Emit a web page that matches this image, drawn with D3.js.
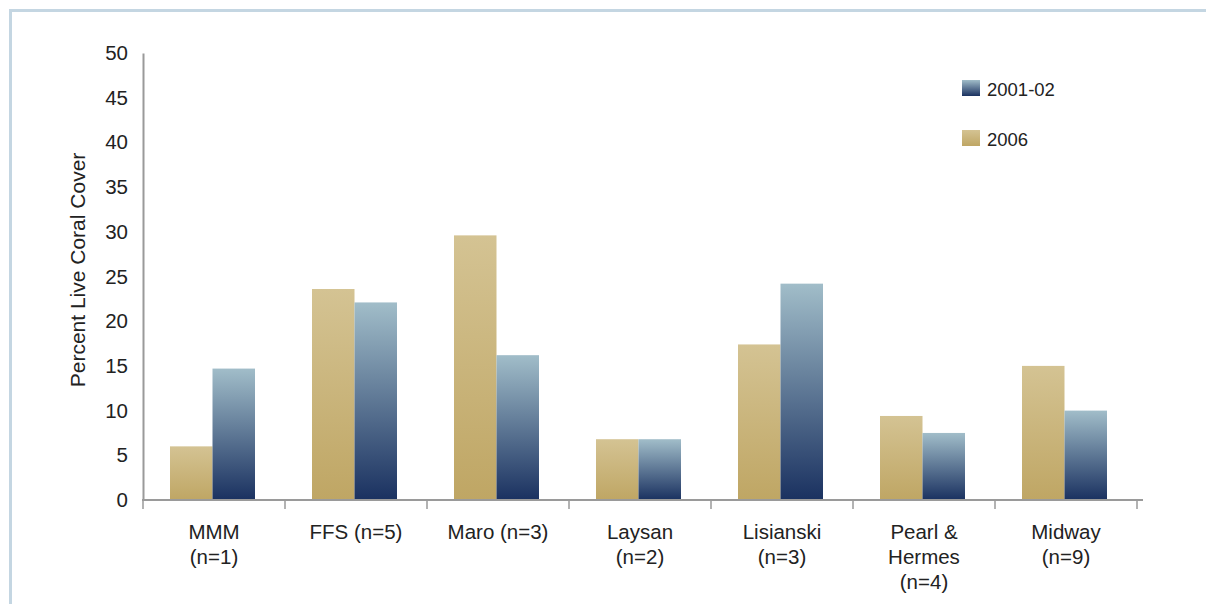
<!DOCTYPE html>
<html>
<head>
  <meta charset="utf-8">
  <script src="https://cdn.jsdelivr.net/npm/d3@7"></script>
  <style>
    body {margin:0; background:#fff;}
    text {font-family: "Liberation Sans", Arial, sans-serif; fill:#222;}
  </style>
</head>
<body>
<script>
// sites and sample sizes, label lines split for wrapping
const sites = ["MMM", "FFS", "Maro", "Laysan", "Lisianski", "Pearl & Hermes", "Midway"];
const siteLabels = [
  ["MMM", "(n=1)"],
  ["FFS (n=5)"],
  ["Maro (n=3)"],
  ["Laysan", "(n=2)"],
  ["Lisianski", "(n=3)"],
  ["Pearl &", "Hermes", "(n=4)"],
  ["Midway", "(n=9)"]
];
const cover2006 = [6.0, 23.6, 29.6, 6.8, 17.4, 9.4, 15.0];
const cover2001 = [14.7, 22.1, 16.2, 6.8, 24.2, 7.5, 10.0];
const yTicks = [0, 5, 10, 15, 20, 25, 30, 35, 40, 45, 50];

const width = 1206, height = 604;
const svg = d3.select("body").append("svg")
  .attr("width", width).attr("height", height);

// frame
svg.append("path")
  .attr("d", `M10.5,${height} V10.5 H${width}`)
  .attr("fill", "none")
  .attr("stroke", "#c4d6e2")
  .attr("stroke-width", 3);

const defs = svg.append("defs");
const gBlue = defs.append("linearGradient").attr("id", "gBlue")
  .attr("x1", 0).attr("y1", 0).attr("x2", 0).attr("y2", 1);
gBlue.append("stop").attr("offset", "0%").attr("stop-color", "#a1bdc9");
gBlue.append("stop").attr("offset", "100%").attr("stop-color", "#1a3160");
const gGold = defs.append("linearGradient").attr("id", "gGold")
  .attr("x1", 0).attr("y1", 0).attr("x2", 0).attr("y2", 1);
gGold.append("stop").attr("offset", "0%").attr("stop-color", "#d4c393");
gGold.append("stop").attr("offset", "100%").attr("stop-color", "#bfa664");

const x = d3.scaleBand().domain(sites).range([143, 1137]);
const y = d3.scaleLinear().domain([0, 50]).range([500, 53]);

const barW = 42.5, inset = 27;

const groups = svg.append("g").selectAll("g")
  .data(sites)
  .join("g")
  .attr("transform", d => `translate(${x(d) + inset},0)`);

groups.append("rect")
  .attr("x", 0)
  .attr("y", (d, i) => y(cover2006[i]))
  .attr("width", barW)
  .attr("height", (d, i) => y(0) - y(cover2006[i]))
  .attr("fill", "url(#gGold)");

groups.append("rect")
  .attr("x", barW)
  .attr("y", (d, i) => y(cover2001[i]))
  .attr("width", barW)
  .attr("height", (d, i) => y(0) - y(cover2001[i]))
  .attr("fill", "url(#gBlue)");

// y axis
const yAxis = svg.append("g")
  .attr("transform", "translate(143,0)")
  .call(d3.axisLeft(y).tickValues(yTicks).tickSize(0).tickPadding(15));
yAxis.select(".domain").attr("stroke", "#9a9a9a").attr("stroke-width", 2);
yAxis.selectAll("text").style("font-size", "20.5px").attr("fill", "#222")
  .style("font-family", "'Liberation Sans', Arial, sans-serif");

// x axis
const xAxisG = svg.append("g");
xAxisG.append("line")
  .attr("x1", 142).attr("x2", 1143).attr("y1", 500).attr("y2", 500)
  .attr("stroke", "#9a9a9a").attr("stroke-width", 2);
const bounds = sites.map(d => x(d)).concat([x.range()[1]]);
xAxisG.selectAll("line.tk")
  .data(bounds)
  .join("line")
  .attr("class", "tk")
  .attr("x1", d => d).attr("x2", d => d)
  .attr("y1", 500).attr("y2", 509)
  .attr("stroke", "#9a9a9a").attr("stroke-width", 1.5);

xAxisG.selectAll("text.cat")
  .data(sites)
  .join("text")
  .attr("class", "cat")
  .attr("text-anchor", "middle")
  .style("font-size", "20.5px")
  .each(function(d, i) {
    const t = d3.select(this);
    siteLabels[i].forEach((ln, j) => {
      t.append("tspan")
        .attr("x", x(d) + x.bandwidth() / 2)
        .attr("y", 539 + j * 25)
        .text(ln);
    });
  });

// y axis title
svg.append("text")
  .attr("transform", "translate(85,270) rotate(-90)")
  .attr("text-anchor", "middle")
  .style("font-size", "21px")
  .text("Percent Live Coral Cover");

// legend
const legend = [
  {label: "2001-02", fill: "url(#gBlue)", y: 80},
  {label: "2006", fill: "url(#gGold)", y: 130}
];
const lg = svg.append("g").selectAll("g").data(legend).join("g")
  .attr("transform", d => `translate(962,${d.y})`);
lg.append("rect").attr("width", 18).attr("height", 16).attr("fill", d => d.fill);
lg.append("text").attr("x", 25).attr("y", 16).style("font-size", "18.5px").text(d => d.label);
</script>
</body>
</html>
